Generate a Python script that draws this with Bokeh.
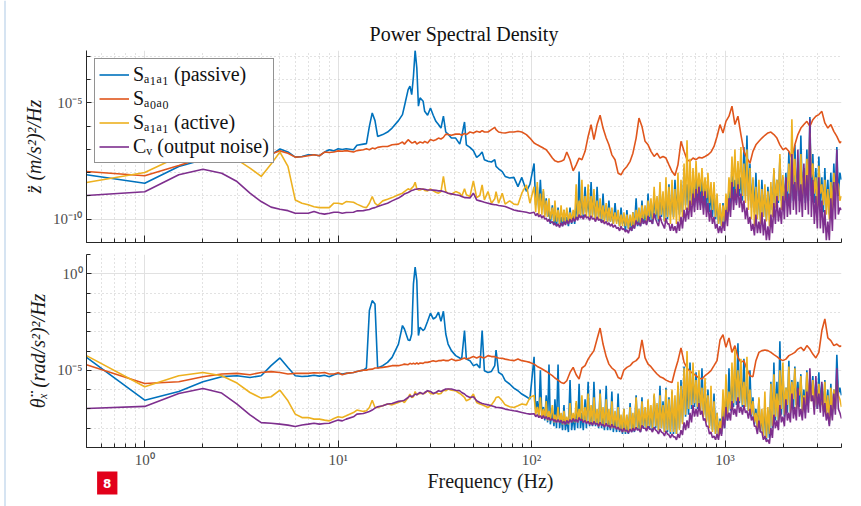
import numpy as np
from bokeh.plotting import figure
from bokeh.models import (Range1d, FixedTicker, Legend, LegendItem, CustomJSTickFormatter)
from bokeh.core.properties import value
from bokeh.layouts import column, row
from bokeh.embed import file_html
from bokeh.resources import INLINE

# ---------------- data (frequency in Hz, PSD given as log10 values) -------------
freq_low = [0.5, 1.0, 1.5, 2.0, 2.5, 3.0, 3.5, 4.0, 4.5, 5.0,
            5.5, 6.0, 6.5, 7.0, 7.5, 8.0, 8.5, 9.0, 9.5, 10.0]
freq_mid = [10.5, 11, 12, 12.5, 13.5, 14, 14.5, 15, 15.5, 16,
            17, 18, 19, 20.5, 21.5, 22, 23, 23.5, 24, 24.5,
            25, 25.5, 26, 26.5, 27.5, 28, 29, 30, 31, 32,
            33, 34, 35, 36, 37, 38.5, 40.5, 42.5, 43.5, 45,
            46, 48, 50, 52, 54, 55.5, 57, 59.5, 62, 64.5,
            65.5, 67.5, 70.5, 73, 77, 81, 85, 89, 94, 98]
# coarse grid above 100 Hz (used by the smoother ground-motion curves)
freq_high = [103, 107, 111, 115, 119, 123, 128, 132, 137, 142,
             147, 152, 158, 164, 170, 176, 182, 189, 196, 203,
             210, 218, 226, 234, 243, 251, 260, 270, 280, 290,
             300, 311, 323, 334, 347, 359, 372, 386, 400, 414,
             430, 445, 461, 478, 495, 513, 532, 551, 571, 592,
             614, 636, 659, 683, 708, 733, 760, 788, 816, 846,
             877, 909, 942, 976, 1011, 1048, 1086, 1125, 1166, 1208,
             1252, 1298, 1345, 1394, 1444, 1497, 1551, 1607, 1666, 1726,
             1789, 1854, 1921, 1991, 2063, 2138, 2216, 2296, 2380, 2466,
             2556, 2649, 2745, 2844, 2948, 3055, 3166, 3281, 3400, 3524,
             3652, 3784, 3922, 4000]
# fine grid above 100 Hz (used by the noisy curves)
freq_dense = [103, 105, 107, 109, 111, 113, 115, 117, 119, 121,
              123, 125, 128, 130.5, 132, 134.5, 137, 139.5, 142, 144.5,
              147, 149.5, 152, 155, 158, 161, 164, 167, 170, 173,
              176, 179, 182, 185, 189, 192, 196, 199.5, 203, 206.5,
              210, 214, 218, 222, 226, 230, 234, 238, 243, 247,
              251, 255.5, 260, 264.5, 270, 275, 280, 285, 290, 295,
              300, 305.5, 311, 316.5, 323, 329, 334, 340, 347, 353,
              359, 365.5, 372, 378.5, 386, 393, 400, 407, 414, 421.5,
              430, 438, 445, 453, 461, 469, 478, 486.5, 495, 504,
              513, 522, 532, 541.5, 551, 561, 571, 581, 592, 602.5,
              614, 625, 636, 647.5, 659, 671, 683, 695, 708, 721,
              733, 746, 760, 774, 788, 802, 816, 831, 846, 861,
              877, 893, 909, 925, 942, 959, 976, 993.5, 1011, 1029,
              1048, 1067, 1086, 1106, 1125, 1145, 1166, 1187, 1208, 1230,
              1252, 1275, 1298, 1321, 1345, 1369, 1394, 1419, 1444, 1470,
              1497, 1524, 1551, 1579, 1607, 1636, 1666, 1696, 1726, 1757,
              1789, 1821, 1854, 1887, 1921, 1956, 1991, 2027, 2063, 2100,
              2138, 2176, 2216, 2256, 2296, 2337, 2380, 2423, 2466, 2510,
              2556, 2602, 2649, 2697, 2745, 2794, 2844, 2895, 2948, 3001,
              3055, 3110, 3166, 3223, 3281, 3340, 3400, 3461, 3524, 3587,
              3652, 3718, 3784, 3852, 3922, 4000]

# ---- top panel: z acceleration, log10 of (m/s^2)^2/Hz
top_passive_log = [
    -8.09, -8.45, -7.73, -7.44, -7.33, -7.27, -7.23, -7.26, -7.23, -6.98,
    -7.11, -7.33, -7.3, -7.23, -7.23, -7.27, -7.11, -7.01, -7.06, -6.97,
    -7.0, -6.97, -7.01, -6.82, -6.77, -6.75, -6.01, -5.43, -5.76, -6.44,
    -6.36, -6.25, -6.08, -5.76, -5.5, -5.14, -4.43, -4.28, -4.64, -3.85,
    -2.74, -3.49, -5.14, -4.78, -4.93, -5.36, -5.53, -5.22, -5.53, -5.79,
    -5.93, -6.08, -5.57, -6.25, -6.34, -6.51, -6.51, -6.77, -6.44, -5.82,
    -6.8, -6.91, -7.05, -7.34, -7.23, -7.11, -7.44, -7.51, -7.54, -7.44,
    -7.73, -7.83, -7.95, -8.16, -8.23, -8.2, -8.6, -8.2, -8.8, -8.5,
] + [
    -7.6, -9.4, -8.6, -9.6, -8.3, -9.6, -8.8, -9.8, -9.1, -9.9,
    -9.6, -10.2, -9.4, -10.2, -9.8, -10.3, -9.5, -10.2, -9.9, -10.3,
    -9.6, -10.2, -9.9, -10.3, -9.5, -10.2, -9.7, -10.2, -9.3, -10.0,
    -7.95, -9.8, -9.0, -9.9, -8.6, -9.7, -9.2, -9.9, -8.4, -9.8,
    -9.0, -10.0, -8.6, -9.9, -9.3, -10.1, -8.9, -10.0, -9.4, -10.1,
    -9.2, -10.1, -9.6, -10.2, -9.3, -10.1, -9.8, -10.3, -9.5, -10.2,
    -9.9, -10.5, -9.6, -10.4, -10.0, -10.5, -9.7, -10.4, -9.1, -10.3,
    -9.8, -10.3, -9.2, -10.2, -9.7, -10.2, -8.9, -10.1, -9.4, -10.2,
    -9.0, -10.0, -9.3, -10.1, -8.7, -9.9, -9.1, -10.1, -8.9, -10.0,
    -8.5, -9.8, -9.0, -9.9, -8.3, -9.6, -8.8, -9.8, -8.6, -9.7,
    -7.8, -9.4, -8.5, -9.5, -8.2, -9.3, -8.6, -9.4, -8.0, -9.3,
    -8.4, -9.4, -8.1, -9.5, -8.6, -9.6, -8.5, -9.7, -8.9, -9.9,
    -8.7, -10.0, -9.2, -10.2, -9.6, -10.3, -9.3, -10.2, -9.3, -10.0,
    -8.6, -9.6, -7.8, -9.2, -8.3, -9.3, -7.6, -9.0, -8.2, -9.2,
    -6.9, -9.0, -6.4, -9.2, -7.6, -9.5, -8.3, -9.7, -8.0, -9.8,
    -8.7, -10.0, -8.3, -9.9, -8.8, -10.0, -8.6, -9.8, -8.6, -9.6,
    -7.9, -9.4, -8.3, -9.3, -7.4, -9.2, -8.2, -9.3, -8.0, -9.4,
    -7.1, -9.3, -8.0, -9.2, -6.8, -9.0, -7.7, -9.2, -6.4, -9.1,
    -7.8, -9.3, -7.0, -9.2, -5.6, -9.0, -7.2, -9.3, -7.8, -9.6,
    -7.3, -9.5, -8.2, -9.7, -7.8, -9.6, -8.3, -9.8, -8.0, -9.5,
    -7.6, -9.2, -6.9, -9.0, -8.0, -8.3]
top_ground_log = [
    -7.95, -8.13, -7.69, -7.37, -7.27, -7.23, -7.2, -7.24, -7.2, -7.06,
    -7.16, -7.33, -7.31, -7.27, -7.23, -7.27, -7.11, -7.13, -7.11, -7.06,
    -7.08, -7.05, -7.11, -7.05, -7.01, -6.97, -7.01, -6.94, -6.97, -6.91,
    -6.87, -6.87, -6.8, -6.77, -6.68, -6.77, -6.58, -6.65, -6.72, -6.7,
    -6.65, -6.77, -6.72, -6.68, -6.72, -6.65, -6.72, -6.57, -6.62, -6.58,
    -6.51, -6.55, -6.48, -6.34, -6.36, -6.39, -6.34, -6.34, -6.39, -6.31,
    -6.36, -6.25, -6.29, -6.22, -6.26, -6.19, -6.25, -6.25, -6.15, -6.05,
    -6.15, -6.25, -6.28, -6.29, -6.25, -6.25, -6.22, -6.25, -6.36, -6.51,
    -6.72, -6.8, -6.87, -6.94, -7.01, -7.16, -7.37, -7.49, -7.54, -7.51,
    -7.44, -7.11, -7.44, -7.92, -7.66, -7.37, -7.44, -7.08, -6.44, -5.93,
    -6.58, -5.93, -5.53, -6.08, -6.51, -6.8, -7.23, -7.44, -8.02, -8.09,
    -7.87, -7.73, -7.51, -7.16, -6.51, -5.65, -6.01, -6.65, -6.8, -7.08,
    -7.3, -7.16, -7.37, -7.3, -7.37, -7.66, -7.95, -8.12, -7.66, -6.65,
    -7.08, -7.44, -7.51, -7.37, -7.44, -7.34, -7.37, -7.3, -7.23, -7.11,
    -6.87, -6.44, -5.93, -6.29, -5.79, -5.57, -5.14, -5.93, -5.57, -6.36,
    -7.08, -7.37, -7.59, -7.08, -6.8, -6.65, -6.51, -6.39, -6.29, -6.25,
    -6.36, -6.51, -6.8, -7.01, -6.94, -7.08, -7.37, -6.8, -6.36, -6.08,
    -5.93, -5.79, -6.01, -5.72, -5.57, -5.5, -5.36, -5.86, -6.08, -5.93,
    -6.22, -6.44, -6.72, -6.65]
top_active_log = [
    -8.42, -7.99, -7.30, -7.06, -7.16, -7.44, -7.8, -8.16, -7.63, -7.11,
    -7.73, -9.17, -9.31, -9.38, -9.46, -9.5, -9.5, -9.5, -9.31, -9.31,
    -9.35, -9.24, -9.27, -9.35, -9.47, -9.5, -9.31, -9.02, -9.31, -9.41,
    -9.21, -9.14, -9.07, -8.95, -8.88, -8.81, -8.69, -8.74, -8.66, -8.59,
    -8.41, -8.69, -8.74, -8.74, -8.69, -8.76, -8.78, -8.69, -8.78, -8.84,
    -8.88, -8.81, -8.16, -8.81, -8.88, -8.92, -8.81, -8.88, -9.02, -8.69,
    -8.95, -9.02, -8.35, -9.07, -8.98, -8.52, -9.17, -8.81, -9.31, -9.12,
    -8.81, -9.31, -8.88, -9.35, -9.21, -9.35, -9.38, -8.88, -8.52, -9.31,
] + [
    -8.6, -9.7, -8.4, -9.8, -8.9, -9.8, -8.7, -9.9, -9.2, -9.9,
    -9.1, -10.0, -9.5, -10.1, -9.2, -10.1, -9.6, -10.2, -9.4, -10.1,
    -9.6, -10.1, -9.5, -10.1, -9.7, -10.1, -9.6, -10.0, -8.5, -9.9,
    -9.2, -9.9, -8.3, -9.8, -9.0, -9.9, -8.5, -9.9, -9.0, -9.9,
    -8.7, -10.0, -9.2, -10.0, -9.1, -10.0, -9.4, -10.1, -9.3, -10.1,
    -9.5, -10.1, -9.5, -10.2, -9.7, -10.2, -9.6, -10.3, -9.8, -10.3,
    -9.7, -10.3, -9.8, -10.4, -9.8, -10.3, -9.7, -10.3, -9.6, -10.1,
    -9.5, -10.2, -9.4, -10.0, -9.4, -10.1, -9.2, -9.9, -9.1, -10.0,
    -8.6, -9.8, -9.0, -10.0, -8.4, -9.8, -8.8, -10.1, -8.2, -9.9,
    -8.6, -10.2, -8.3, -10.0, -8.7, -10.2, -8.0, -10.1, -8.3, -9.9,
    -7.6, -9.6, -6.6, -9.6, -7.4, -9.4, -7.8, -9.1, -7.5, -8.9,
    -8.0, -8.8, -7.8, -9.0, -8.2, -9.1, -8.0, -9.3, -8.4, -9.6,
    -8.4, -9.9, -8.9, -10.2, -9.3, -10.3, -9.4, -10.1, -8.9, -9.7,
    -8.2, -9.1, -7.3, -8.6, -7.0, -8.9, -7.5, -8.7, -6.9, -9.0,
    -7.6, -9.3, -7.0, -9.6, -7.8, -10.0, -8.2, -10.3, -8.6, -10.0,
    -8.3, -10.2, -8.7, -9.9, -8.5, -10.1, -8.8, -10.3, -8.4, -9.9,
    -7.8, -9.5, -8.3, -9.2, -7.2, -9.6, -8.1, -9.2, -8.5, -8.8,
    -7.6, -9.1, -5.7, -8.5, -7.4, -8.8, -8.2, -8.9, -7.2, -9.1,
    -8.0, -8.7, -7.4, -8.8, -6.3, -8.2, -7.6, -8.9, -8.2, -9.5,
    -7.7, -8.9, -8.5, -9.4, -8.3, -9.8, -8.7, -10.0, -8.4, -9.6,
    -8.0, -9.0, -8.4, -8.5, -9.2, -9.0]
top_noise_log = [
    -8.98, -8.82, -8.09, -7.85, -8.02, -8.38, -8.88, -9.24, -9.48, -9.57,
    -9.63, -9.74, -9.74, -9.74, -9.67, -9.74, -9.78, -9.74, -9.7, -9.7,
    -9.74, -9.71, -9.7, -9.64, -9.63, -9.6, -9.58, -9.53, -9.5, -9.45,
    -9.38, -9.31, -9.21, -9.09, -8.98, -8.91, -8.85, -8.81, -8.76, -8.74,
    -8.71, -8.71, -8.69, -8.69, -8.71, -8.71, -8.74, -8.74, -8.75, -8.76,
    -8.78, -8.78, -8.81, -8.84, -8.88, -8.91, -8.95, -8.98, -9.02, -9.07,
    -9.07, -9.09, -8.88, -9.17, -9.21, -9.24, -9.27, -9.31, -9.35, -9.38,
    -9.38, -9.41, -9.43, -9.45, -9.53, -9.6, -9.64, -9.67, -9.7, -9.74,
] + [
    -9.7, -9.85, -9.75, -9.9, -9.8, -9.95, -9.85, -10.0, -9.95, -10.1,
    -10.0, -10.15, -10.1, -10.25, -10.15, -10.3, -10.2, -10.35, -10.15, -10.3,
    -10.1, -10.25, -10.05, -10.2, -10.0, -10.15, -9.95, -10.1, -9.9, -10.05,
    -9.8, -9.95, -9.85, -10.0, -9.8, -9.95, -9.9, -10.05, -9.85, -10.0,
    -9.95, -10.1, -9.9, -10.05, -10.0, -10.15, -10.05, -10.2, -10.1, -10.25,
    -10.15, -10.3, -10.2, -10.35, -10.25, -10.4, -10.35, -10.5, -10.3, -10.45,
    -10.4, -10.55, -10.45, -10.6, -10.35, -10.5, -10.25, -10.4, -10.05, -10.25,
    -10.15, -10.3, -9.95, -10.2, -10.05, -10.25, -9.85, -10.1, -10.05, -10.2,
    -9.75, -10.0, -10.15, -10.3, -9.85, -10.1, -10.25, -10.4, -9.95, -10.2,
    -10.2, -10.5, -10.2, -10.5, -10.3, -10.6, -10.1, -10.5, -9.9, -10.4,
    -9.6, -10.1, -9.5, -10.0, -9.2, -9.9, -8.9, -9.7, -8.7, -9.6,
    -8.6, -9.6, -8.8, -9.8, -8.8, -9.9, -9.3, -10.1, -9.6, -10.2,
    -9.9, -10.4, -10.2, -10.6, -10.3, -10.6, -10.1, -10.5, -9.6, -10.3,
    -9.1, -9.9, -8.4, -9.6, -8.7, -9.4, -8.5, -9.5, -8.9, -9.7,
    -9.2, -10.0, -9.5, -10.2, -9.9, -10.5, -10.2, -10.7, -9.8, -10.6,
    -10.1, -10.6, -9.7, -10.7, -10.0, -10.9, -10.3, -10.9, -9.8, -10.6,
    -9.3, -10.2, -9.0, -10.1, -9.5, -10.2, -9.0, -10.0, -8.2, -9.9,
    -8.9, -9.8, -7.2, -9.6, -8.4, -9.8, -7.0, -9.7, -8.5, -9.9,
    -7.6, -9.6, -8.1, -9.8, -5.7, -9.9, -8.3, -10.2, -9.0, -10.4,
    -8.2, -10.4, -9.2, -10.6, -9.6, -10.9, -10.1, -10.9, -9.1, -10.5,
    -8.4, -10.0, -7.0, -9.8, -9.5, -9.6]

# ---- bottom panel: theta_x acceleration, log10 of (rad/s^2)^2/Hz
bot_passive_log = [
    -4.33, -6.55, -6.1, -5.59, -5.33, -5.28, -5.37, -5.28, -4.76, -4.36,
    -4.85, -5.28, -5.32, -5.3, -5.26, -5.3, -5.26, -5.33, -5.23, -5.16,
    -5.19, -5.16, -5.11, -5.06, -4.99, -4.88, -1.9, -1.39, -1.56, -4.88,
    -4.76, -4.59, -4.33, -3.64, -2.68, -2.86, -3.43, -3.46, -3.12, -0.52,
    0.35, -0.35, -3.2, -2.77, -2.94, -2.86, -2.46, -2.04, -2.34, -2.25,
    -1.99, -2.46, -1.94, -3.12, -3.64, -3.98, -4.24, -4.36, -4.42, -2.94,
    -4.42, -4.5, -4.76, -4.68, -4.88, -2.94, -5.02, -5.11, -5.06, -4.76,
    -3.95, -5.11, -5.23, -5.54, -5.71, -5.92, -6.06, -6.23, -6.37, -6.49,
] + [
    -4.3, -7.2, -6.6, -7.4, -5.0, -7.5, -6.9, -7.6, -6.3, -7.7,
    -4.7, -7.8, -7.1, -7.9, -6.5, -8.0, -4.7, -8.0, -7.3, -8.1,
    -6.8, -8.1, -7.5, -8.2, -5.5, -8.1, -7.4, -8.1, -6.7, -8.0,
    -5.7, -8.0, -7.2, -8.1, -6.5, -8.0, -5.6, -7.9, -7.0, -7.9,
    -5.6, -7.9, -7.1, -8.0, -6.0, -8.0, -7.2, -8.1, -5.8, -8.1,
    -7.3, -8.1, -6.1, -8.2, -7.4, -8.2, -6.2, -8.2, -7.5, -8.3,
    -7.0, -8.3, -7.6, -8.3, -6.7, -8.2, -7.4, -8.2, -6.3, -8.1,
    -7.5, -8.2, -6.4, -8.0, -7.1, -8.1, -6.6, -8.0, -7.0, -8.1,
    -6.3, -8.0, -6.8, -8.1, -5.8, -8.0, -6.6, -8.2, -5.9, -8.2,
    -6.4, -8.3, -6.1, -8.3, -6.7, -8.3, -5.8, -8.0, -5.5, -7.7,
    -4.8, -7.4, -5.6, -7.3, -4.6, -7.0, -5.4, -6.9, -5.1, -7.0,
    -5.8, -7.1, -4.9, -7.3, -6.0, -7.6, -6.0, -7.9, -6.6, -8.1,
    -6.2, -8.3, -7.2, -8.4, -7.5, -8.3, -6.6, -8.0, -6.2, -7.6,
    -4.9, -7.1, -5.6, -6.9, -4.5, -6.8, -3.6, -6.7, -5.0, -6.9,
    -4.4, -6.9, -5.8, -7.1, -5.0, -7.4, -6.4, -7.8, -7.0, -8.1,
    -6.5, -8.2, -7.3, -8.4, -6.8, -8.6, -7.1, -8.5, -5.6, -8.0,
    -4.6, -7.6, -5.6, -7.6, -3.5, -7.3, -5.0, -7.4, -5.9, -7.2,
    -4.5, -7.2, -5.5, -7.0, -4.8, -6.8, -5.6, -6.9, -5.2, -7.1,
    -6.0, -7.2, -5.0, -6.7, -5.9, -6.2, -5.3, -6.9, -5.6, -7.0,
    -5.1, -6.8, -5.7, -7.0, -5.5, -7.3, -6.0, -7.8, -5.7, -7.3,
    -6.0, -7.0, -4.2, -6.2, -5.9, -6.3]
bot_ground_log = [
    -4.71, -5.68, -5.59, -5.33, -5.19, -5.16, -5.23, -5.11, -5.07, -5.11,
    -5.19, -5.16, -5.16, -5.16, -5.13, -5.14, -5.11, -5.19, -5.19, -5.13,
    -5.23, -5.16, -5.11, -5.06, -4.99, -4.99, -4.95, -4.94, -4.88, -4.88,
    -4.85, -4.81, -4.76, -4.76, -4.71, -4.68, -4.71, -4.64, -4.68, -4.64,
    -4.68, -4.61, -4.68, -4.62, -4.64, -4.59, -4.59, -4.55, -4.5, -4.55,
    -4.5, -4.5, -4.47, -4.5, -4.5, -4.42, -4.5, -4.47, -4.42, -4.36,
    -4.42, -4.36, -4.29, -4.36, -4.29, -4.33, -4.36, -4.24, -4.29, -4.29,
    -4.33, -4.36, -4.38, -4.42, -4.47, -4.5, -4.42, -4.5, -4.54, -4.59,
    -4.68, -4.8, -4.88, -4.97, -5.06, -5.16, -5.28, -5.4, -5.51, -5.63,
    -5.68, -5.54, -5.11, -4.85, -5.23, -5.45, -4.88, -4.76, -4.42, -4.19,
    -3.98, -3.38, -2.81, -3.64, -4.29, -4.68, -4.88, -5.02, -5.37, -5.45,
    -4.99, -4.85, -4.76, -4.59, -4.5, -4.33, -3.43, -4.36, -4.68, -4.81,
    -5.02, -5.19, -5.33, -5.4, -5.51, -5.58, -5.63, -5.02, -4.5, -3.84,
    -4.59, -4.88, -5.06, -5.16, -5.28, -5.4, -5.45, -5.28, -5.16, -5.02,
    -4.76, -4.5, -3.43, -3.15, -3.81, -3.32, -4.07, -3.72, -4.33, -4.59,
    -4.5, -4.94, -5.28, -5.33, -4.5, -4.07, -3.98, -3.95, -3.98, -4.07,
    -4.19, -4.29, -4.42, -4.5, -4.42, -4.24, -4.16, -4.07, -3.9, -3.81,
    -3.98, -3.72, -3.9, -4.16, -4.36, -4.07, -2.94, -2.34, -3.32, -3.46,
    -3.72, -3.64, -3.77, -3.72]
bot_active_log = [
    -4.24, -5.85, -5.28, -5.11, -5.28, -5.66, -6.15, -6.44, -6.37, -6.03,
    -6.58, -7.27, -7.45, -7.45, -7.53, -7.53, -7.58, -7.62, -7.5, -7.41,
    -7.45, -7.36, -7.19, -7.06, -7.13, -7.1, -6.93, -6.55, -6.93, -6.93,
    -6.84, -6.75, -6.79, -6.67, -6.58, -6.67, -6.41, -6.23, -6.41, -6.37,
    -6.1, -6.27, -6.23, -6.2, -6.2, -6.2, -6.06, -6.2, -6.23, -6.15,
    -6.23, -6.2, -6.03, -6.06, -5.97, -6.03, -6.06, -6.2, -6.27, -6.41,
    -6.58, -6.49, -6.23, -6.67, -6.75, -6.79, -6.84, -6.93, -6.79, -6.55,
    -6.41, -6.37, -6.58, -6.79, -6.89, -6.93, -6.84, -6.75, -6.79, -6.41,
] + [
    -6.3, -7.3, -6.9, -7.4, -6.4, -7.5, -7.0, -7.5, -6.6, -7.6,
    -7.1, -7.6, -6.8, -7.7, -7.3, -7.7, -6.9, -7.7, -7.2, -7.8,
    -7.1, -7.8, -7.4, -7.8, -6.7, -7.7, -7.2, -7.7, -6.6, -7.7,
    -7.0, -7.6, -6.3, -7.7, -6.9, -7.7, -6.2, -7.8, -6.8, -7.8,
    -6.4, -7.8, -7.0, -7.9, -6.2, -7.8, -6.9, -7.9, -6.5, -7.9,
    -7.0, -8.0, -6.6, -8.0, -7.1, -8.0, -6.9, -8.1, -7.3, -8.2,
    -7.0, -8.2, -7.3, -8.2, -6.9, -8.1, -7.2, -8.1, -6.4, -8.0,
    -7.0, -8.1, -6.6, -7.9, -6.9, -8.0, -6.5, -7.9, -6.8, -8.0,
    -6.2, -7.9, -6.7, -8.1, -6.3, -8.0, -6.8, -8.2, -6.0, -8.1,
    -6.5, -8.2, -6.0, -8.2, -6.3, -8.3, -5.6, -8.1, -5.8, -7.8,
    -4.9, -7.3, -4.0, -7.0, -5.0, -6.8, -4.6, -6.7, -5.5, -6.9,
    -5.0, -7.1, -5.9, -7.4, -5.4, -7.7, -6.3, -8.0, -5.8, -8.2,
    -6.6, -8.3, -7.2, -8.4, -7.6, -8.2, -6.0, -7.8, -5.2, -7.3,
    -6.1, -7.0, -4.6, -6.7, -3.9, -6.6, -5.0, -6.6, -4.4, -6.8,
    -5.6, -6.9, -4.3, -7.1, -6.0, -7.3, -6.6, -7.7, -7.2, -8.0,
    -6.4, -8.2, -7.0, -8.4, -6.1, -8.5, -6.9, -8.3, -5.7, -7.9,
    -5.2, -7.4, -6.2, -7.6, -5.0, -7.0, -4.6, -7.3, -5.9, -6.8,
    -4.8, -7.2, -5.6, -6.5, -4.9, -7.0, -6.0, -6.3, -5.3, -7.2,
    -6.3, -6.8, -5.1, -6.5, -5.5, -6.6, -5.5, -6.9, -5.9, -6.8,
    -5.7, -6.8, -6.6, -7.1, -5.6, -7.4, -6.3, -7.7, -5.9, -7.2,
    -6.0, -7.0, -5.4, -6.3, -6.5, -6.9]
bot_noise_log = [
    -6.98, -6.87, -6.2, -5.94, -6.18, -6.75, -7.31, -7.71, -7.74, -7.79,
    -7.84, -7.91, -7.83, -7.79, -7.74, -7.79, -7.76, -7.74, -7.65, -7.58,
    -7.62, -7.53, -7.41, -7.27, -7.24, -7.19, -7.13, -7.06, -6.96, -6.89,
    -6.84, -6.75, -6.72, -6.61, -6.58, -6.55, -6.41, -6.32, -6.37, -6.32,
    -6.23, -6.27, -6.2, -6.15, -6.23, -6.15, -6.06, -6.1, -6.2, -6.15,
    -6.06, -6.1, -6.03, -5.97, -5.97, -5.97, -6.03, -6.06, -6.15, -6.23,
    -6.32, -6.41, -6.37, -6.58, -6.67, -6.72, -6.75, -6.79, -6.84, -6.89,
    -6.93, -6.93, -6.96, -7.01, -7.06, -7.1, -7.13, -7.19, -7.24, -7.27,
] + [
    -7.25, -7.4, -7.3, -7.45, -7.35, -7.5, -7.35, -7.5, -7.4, -7.55,
    -7.45, -7.6, -7.5, -7.65, -7.55, -7.7, -7.55, -7.7, -7.6, -7.75,
    -7.65, -7.8, -7.6, -7.75, -7.55, -7.7, -7.5, -7.65, -7.55, -7.7,
    -7.45, -7.6, -7.55, -7.7, -7.6, -7.75, -7.65, -7.8, -7.7, -7.85,
    -7.65, -7.8, -7.75, -7.9, -7.7, -7.85, -7.8, -7.95, -7.75, -7.9,
    -7.85, -8.0, -7.8, -7.95, -7.9, -8.05, -7.95, -8.1, -8.05, -8.2,
    -8.0, -8.15, -8.1, -8.25, -8.05, -8.2, -8.0, -8.15, -7.95, -8.1,
    -8.05, -8.2, -7.85, -8.0, -8.0, -8.15, -7.9, -8.05, -8.05, -8.2,
    -7.95, -8.1, -8.15, -8.3, -8.05, -8.2, -8.25, -8.4, -8.15, -8.3,
    -8.35, -8.5, -8.3, -8.45, -8.45, -8.6, -8.3, -8.5, -8.1, -8.35,
    -7.7, -8.1, -7.6, -8.0, -7.2, -7.7, -6.8, -7.4, -7.0, -7.4,
    -6.7, -7.3, -7.1, -7.6, -7.5, -7.9, -7.9, -8.3, -8.2, -8.5,
    -8.4, -8.6, -8.3, -8.6, -8.0, -8.4, -7.4, -8.0, -6.9, -7.6,
    -7.2, -7.6, -6.6, -7.3, -7.0, -7.4, -6.4, -7.2, -6.9, -7.3,
    -6.8, -7.2, -7.1, -7.5, -7.0, -7.6, -7.4, -7.9, -7.9, -8.3,
    -7.6, -8.2, -8.2, -8.6, -8.4, -8.7, -8.6, -8.8, -8.0, -8.5,
    -7.3, -8.0, -7.6, -8.1, -6.8, -7.7, -7.4, -7.9, -6.5, -7.6,
    -7.2, -7.7, -6.2, -7.5, -6.9, -7.6, -5.9, -7.4, -7.0, -7.6,
    -6.4, -7.5, -6.1, -7.2, -4.9, -6.6, -6.3, -7.3, -5.3, -7.0,
    -6.2, -7.2, -5.6, -7.4, -6.7, -7.6, -7.2, -7.9, -6.8, -7.6,
    -6.2, -7.3, -4.9, -7.0, -7.2, -7.5]

series_labels = ["S\u2090\u2081\u2090\u2081 (passive)", "S\u2090\u2080\u2090\u2080",
                 "S\u2090\u2081\u2090\u2081 (active)", "C\u1d65 (output noise)"]

x_tick_values = [1, 10, 100, 1000]
x_tick_labels = ["10\u2070", "10\u00b9", "10\u00b2", "10\u00b3"]
top_y_tick_values = [1e-10, 1e-5]
top_y_tick_labels = ["10\u207b\u00b9\u2070", "10\u207b\u2075"]
bot_y_tick_values = [1e-5, 1.0]
bot_y_tick_labels = ["10\u207b\u2075", "10\u2070"]

x_minor = [0.5, 0.6, 0.7, 0.8, 0.9, 2, 3, 4, 5, 6, 7, 8, 9,
           20, 30, 40, 50, 60, 70, 80, 90, 200, 300, 400, 500, 600, 700, 800, 900,
           2000, 3000, 4000]
top_y_minor = [1e-11, 1e-10, 1e-9, 1e-8, 1e-7, 1e-6, 1e-5, 1e-4, 1e-3]
bot_y_minor = [1e-9, 1e-8, 1e-7, 1e-6, 1e-5, 1e-4, 1e-3, 1e-2, 1e-1, 1.0, 10.0]

title_text = "Power Spectral Density"
top_ylabel = "z\u0308 (m/s\u00b2)\u00b2/Hz"
bot_ylabel = "\u03b8\u0308\u2093 (rad/s\u00b2)\u00b2/Hz"
xlabel_text = "Frequency (Hz)"
badge_text = "8"

# ---------------- styling ----------------
COLORS = ["#0072BD", "#E0561C", "#EDB120", "#7E2F8E"]
SERIF = "Liberation Serif"
AX = "#262626"
TICKLAB = "#4d4d4d"
LEFT_PAD = 6          # width of the thin page-edge strip on the left

x_coarse = freq_low + freq_mid + freq_high
x_fine = freq_low + freq_mid + freq_dense

FMT_CODE = """
let best = 0, bd = Infinity;
for (let i = 0; i < vals.length; i++) {
  const d = Math.abs(Math.log10(tick) - Math.log10(vals[i]));
  if (d < bd) { bd = d; best = i; }
}
return labs[best];
"""


def style_fig(p, yvals, ylabs, yminor, ylabel):
    p.outline_line_color = None
    p.background_fill_color = "white"
    p.border_fill_color = "white"
    xt = FixedTicker(ticks=x_tick_values, minor_ticks=x_minor)
    yt = FixedTicker(ticks=yvals, minor_ticks=yminor)
    p.xaxis.ticker = xt
    p.xgrid.ticker = xt
    p.yaxis.ticker = yt
    p.ygrid.ticker = yt
    p.xaxis.formatter = CustomJSTickFormatter(args=dict(vals=x_tick_values, labs=x_tick_labels), code=FMT_CODE)
    p.yaxis.formatter = CustomJSTickFormatter(args=dict(vals=yvals, labs=ylabs), code=FMT_CODE)
    for g in (p.xgrid, p.ygrid):
        g.grid_line_color = "#e1e1e1"
        g.grid_line_width = 1
        g.minor_grid_line_color = "#c4c4c4"
        g.minor_grid_line_dash = "1 3"
        g.minor_grid_line_width = 1
    for ax in (p.xaxis, p.yaxis):
        ax.axis_line_color = AX
        ax.major_tick_line_color = AX
        ax.minor_tick_line_color = AX
        ax.major_tick_out = 0
        ax.minor_tick_out = 0
        ax.major_label_text_font = SERIF
        ax.major_label_text_font_size = "15px"
        ax.major_label_text_color = TICKLAB
        ax.axis_label_text_font = SERIF
        ax.axis_label_text_color = "#1a1a1a"
    p.xaxis.major_tick_in = 7
    p.xaxis.minor_tick_in = 4
    p.yaxis.major_tick_in = 5
    p.yaxis.minor_tick_in = 4
    p.yaxis.major_label_standoff = 4
    p.yaxis.axis_label = ylabel
    p.yaxis.axis_label_text_font_style = "italic"
    p.yaxis.axis_label_text_font_size = "20px"
    p.yaxis.axis_label_standoff = 5


def add_lines(p, logs):
    rs = []
    for (xs, vals), col in zip(logs, COLORS):
        m = min(len(xs), len(vals))
        y = np.power(10.0, np.array(vals[:m], dtype=float))
        rs.append(p.line(xs[:m], y, line_color=col, line_width=1.6))
    return rs


# ---- top panel
p_top = figure(width=861 - LEFT_PAD, height=250, x_axis_type="log", y_axis_type="log",
               x_range=Range1d(0.5, 4000), y_range=Range1d(1e-11, 1.8e-3),
               output_backend="svg", toolbar_location=None,
               min_border_left=86 - LEFT_PAD, min_border_right=20,
               min_border_top=50, min_border_bottom=8, title=title_text)
p_top.title.align = "center"
p_top.title.text_font = SERIF
p_top.title.text_font_size = "20px"
p_top.title.text_font_style = "normal"
p_top.title.text_color = "#111111"
p_top.title.standoff = 12
style_fig(p_top, top_y_tick_values, top_y_tick_labels, top_y_minor, top_ylabel)
p_top.xaxis.major_label_text_color = None
p_top.xaxis.major_label_text_font_size = "1px"
p_top.xaxis.major_label_standoff = 0
r_top = add_lines(p_top, [(x_fine, top_passive_log), (x_coarse, top_ground_log),
                          (x_fine, top_active_log), (x_fine, top_noise_log)])

legend = Legend(items=[LegendItem(label=lab, renderers=[r]) for lab, r in zip(series_labels, r_top)],
                location="top_left")
legend.label_text_font = SERIF
legend.label_text_font_size = "20px"
legend.label_text_color = "#111111"
legend.glyph_width = 30
legend.glyph_height = 21
legend.label_height = 21
legend.label_standoff = 4
legend.spacing = 1
legend.padding = 4
legend.margin = 8
legend.border_line_color = AX
legend.border_line_width = 1
legend.background_fill_color = "white"
legend.background_fill_alpha = 1.0
p_top.add_layout(legend)

# ---- bottom panel
p_bot = figure(frame_width=755, frame_height=193, x_axis_type="log", y_axis_type="log",
               x_range=Range1d(0.5, 4000), y_range=Range1d(1e-9, 10.0),
               output_backend="svg", toolbar_location=None,
               min_border_left=86 - LEFT_PAD, min_border_right=20,
               min_border_top=4, min_border_bottom=23)
style_fig(p_bot, bot_y_tick_values, bot_y_tick_labels, bot_y_minor, bot_ylabel)
p_bot.xaxis.major_label_standoff = 4
add_lines(p_bot, [(x_fine, bot_passive_log), (x_coarse, bot_ground_log),
                  (x_fine, bot_active_log), (x_fine, bot_noise_log)])

# ---- strip under the bottom panel: x-axis title and page badge
p_strip = figure(width=861 - LEFT_PAD, height=36, x_range=Range1d(0, 861 - LEFT_PAD), y_range=Range1d(0, 36),
                 output_backend="svg", toolbar_location=None, min_border=0,
                 x_axis_location=None, y_axis_location=None)
p_strip.outline_line_color = None
for g in p_strip.grid:
    g.visible = False
p_strip.text(x=[463.5 - LEFT_PAD], y=[25.5], text=[xlabel_text], text_font=value(SERIF),
             text_font_size="20px", text_align="center", text_baseline="middle", text_color="#1a1a1a")
p_strip.quad(left=[18 - LEFT_PAD], right=[41 - LEFT_PAD], bottom=[12], top=[35],
             fill_color="#E2001A", line_color=None)
p_strip.text(x=[29.5 - LEFT_PAD], y=[23.5], text=[badge_text], text_font=value("DejaVu Sans"),
             text_font_style="bold", text_font_size="12px", text_color="white",
             text_align="center", text_baseline="middle")

# ---- thin light-blue page edge on the far left
p_edge = figure(width=LEFT_PAD, height=506, x_range=Range1d(0, LEFT_PAD), y_range=Range1d(0, 506),
                output_backend="svg", toolbar_location=None, min_border=0,
                x_axis_location=None, y_axis_location=None)
p_edge.outline_line_color = None
for g in p_edge.grid:
    g.visible = False
p_edge.quad(left=[3.5], right=[5.5], bottom=[0], top=[506], fill_color="#d6e4f2", line_color=None)

layout = row(p_edge, column(p_top, p_bot, p_strip))
open("out.html", "w").write(file_html(layout, INLINE))
